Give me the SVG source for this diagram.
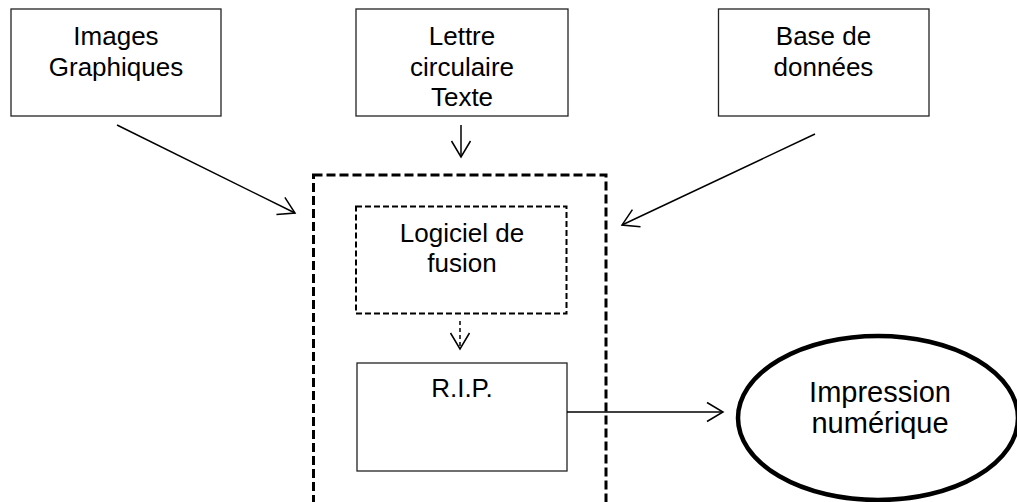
<svg xmlns="http://www.w3.org/2000/svg" width="1017" height="502" viewBox="0 0 1017 502">
  <style>
    .box { fill: #ffffff; stroke: #222222; stroke-width: 1.3; }
    .outer { fill: none; stroke: #000000; stroke-width: 3; stroke-dasharray: 9 4; }
    .inner { fill: #ffffff; stroke: #000000; stroke-width: 2; stroke-dasharray: 6 3; }
    .oval { fill: #ffffff; stroke: #000000; stroke-width: 4.5; }
    .lbl { font-family: "Liberation Sans", Arial, sans-serif; font-size: 26px; fill: #000000; text-anchor: middle; }
    .big { font-size: 29px; }
    .link { fill: none; stroke: #000000; stroke-width: 1.5; }
    .dash { stroke-dasharray: 4 3; }
  </style>
  <defs>
    <marker id="open" markerUnits="userSpaceOnUse" markerWidth="40" markerHeight="40" viewBox="-20 -20 40 40" refX="0" refY="0" orient="auto">
      <path d="M-16,-9.5 L0,0 L-16,9.5" fill="none" stroke="#000000" stroke-width="1.5"/>
    </marker>
  </defs>

  <rect width="1017" height="502" fill="#ffffff"/>

  <!-- workstation boundary -->
  <g id="poste">
    <rect class="outer" x="313.5" y="175" width="292.5" height="340"/>
  </g>

  <g id="images">
    <rect class="box" x="11" y="9" width="210" height="107"/>
    <text class="lbl" x="116" y="45">Images</text>
    <text class="lbl" x="116" y="75.5">Graphiques</text>
  </g>

  <g id="lettre">
    <rect class="box" x="356" y="9" width="212" height="107"/>
    <text class="lbl" x="462" y="45">Lettre</text>
    <text class="lbl" x="462" y="75.5">circulaire</text>
    <text class="lbl" x="462" y="105.5">Texte</text>
  </g>

  <g id="base">
    <rect class="box" x="718.5" y="9" width="210.5" height="107"/>
    <text class="lbl" x="823.5" y="45">Base de</text>
    <text class="lbl" x="823.5" y="75.5">données</text>
  </g>

  <g id="logiciel">
    <rect class="inner" x="356" y="206.5" width="210.5" height="107"/>
    <text class="lbl" x="462" y="242">Logiciel de</text>
    <text class="lbl" x="462" y="272">fusion</text>
  </g>

  <g id="rip">
    <rect class="box" x="357" y="363" width="210" height="108"/>
    <text class="lbl" x="462" y="397">R.I.P.</text>
  </g>

  <g id="impression">
    <ellipse class="oval" cx="878" cy="418" rx="140" ry="82"/>
    <text class="lbl big" x="880" y="402">Impression</text>
    <text class="lbl big" x="880" y="433">numérique</text>
  </g>

  <g id="connectors">
    <line class="link" x1="117" y1="125" x2="295" y2="213" marker-end="url(#open)"/>
    <line class="link" x1="461" y1="125" x2="461" y2="157" marker-end="url(#open)"/>
    <line class="link" x1="815" y1="134" x2="622" y2="225" marker-end="url(#open)"/>
    <line class="link dash" x1="460" y1="321" x2="460" y2="349" marker-end="url(#open)"/>
    <line class="link" x1="567" y1="412" x2="723" y2="412" marker-end="url(#open)"/>
  </g>
</svg>
